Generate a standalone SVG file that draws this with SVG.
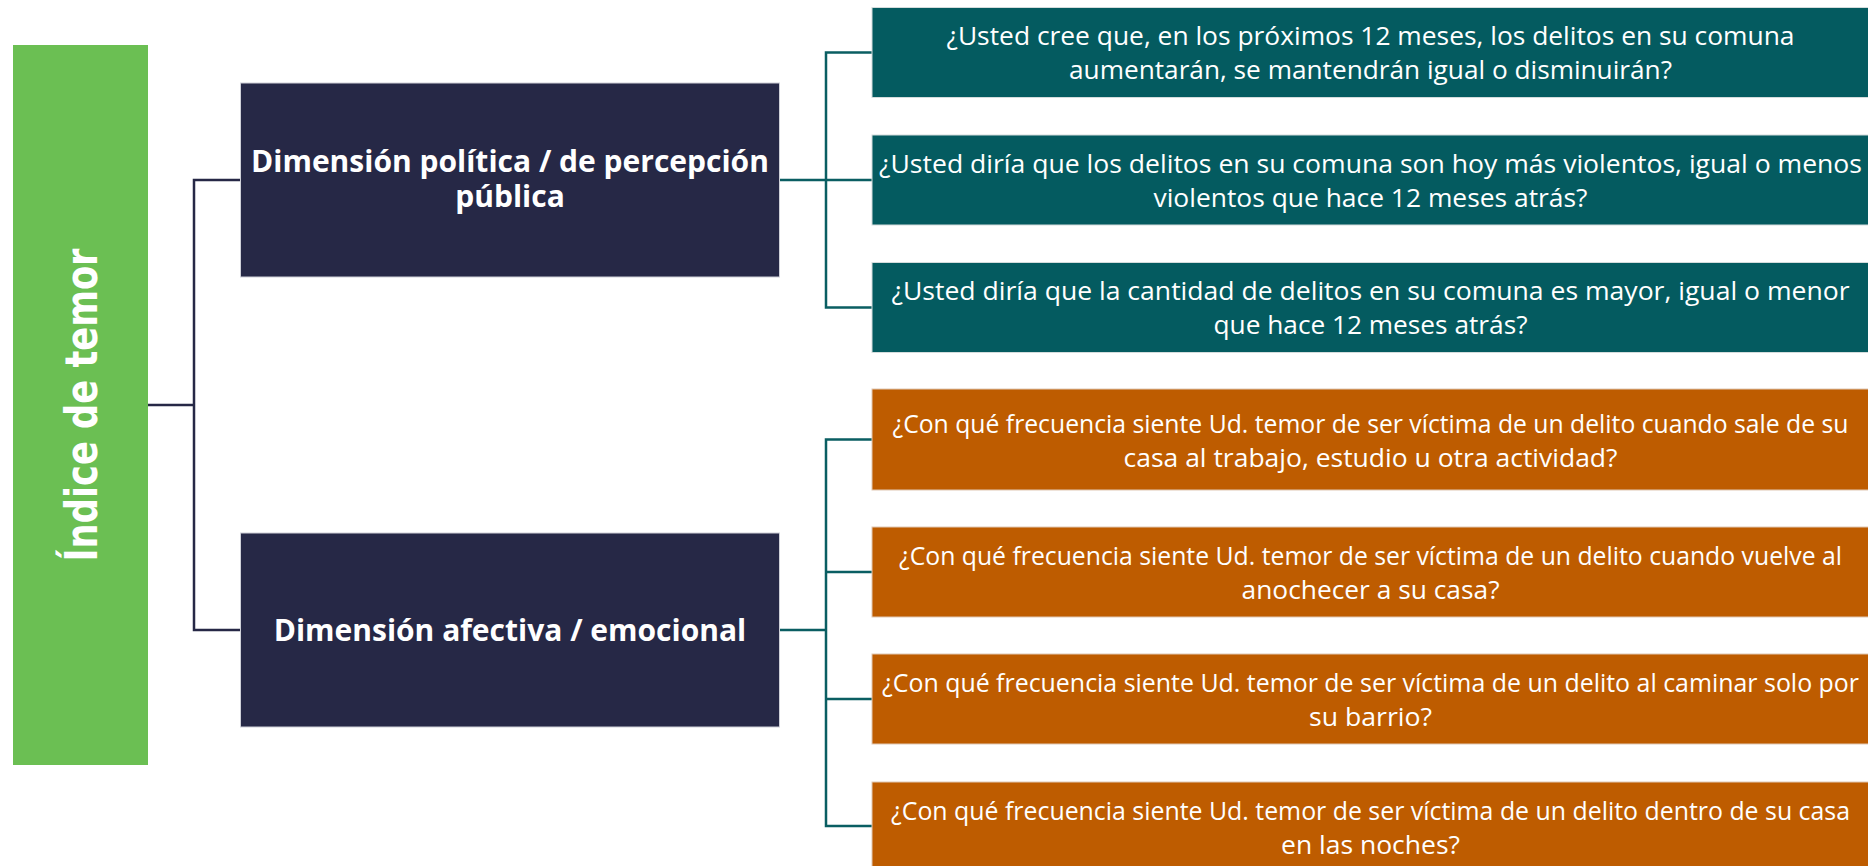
<svg xmlns="http://www.w3.org/2000/svg" width="1868" height="866" viewBox="0 0 1868 866">
<style>
.bg{fill:#ffffff}
.root{fill:#6BBF53}
.dim{fill:#262846;stroke:#cfd0d8;stroke-width:1}
.teal{fill:#045B60;stroke:#d4dcdc;stroke-width:1}
.orange{fill:#BE5C00;stroke:#e0c8b4;stroke-width:1}
.rt{font-family:"DejaVu Sans",Verdana,sans-serif;font-weight:bold;font-size:44px;fill:#ffffff}
.dt{font-family:"Open Sans","Noto Sans",sans-serif;font-weight:bold;font-size:30px;fill:#ffffff;text-anchor:middle}
.qt{font-family:"Open Sans","Noto Sans",sans-serif;font-size:26px;fill:#ffffff;text-anchor:middle}
.qs{font-size:25px}
.cn{fill:none;stroke:#262846;stroke-width:2.5}
.ct{fill:none;stroke:#0A5E62;stroke-width:2.5}
</style>
<rect class="bg" x="0" y="0" width="1868" height="866"/>
<g id="connectors">
<path class="cn" d="M148,405 H194"/>
<path class="cn" d="M240,180 H194 V630 H240"/>
<path class="ct" d="M780,180 H872"/>
<path class="ct" d="M872,52.5 H826 V307.5 H872"/>
<path class="ct" d="M780,630 H826"/>
<path class="ct" d="M872,439.5 H826 V826 H872"/>
<path class="ct" d="M826,572 H872"/>
<path class="ct" d="M826,699 H872"/>
</g>
<g id="root">
<rect class="root" x="13" y="45" width="135" height="720"/>
<text class="rt" transform="translate(96.5,405) rotate(-90)" x="-156.5" y="0" textLength="313" lengthAdjust="spacingAndGlyphs">Índice de temor</text>
</g>
<g id="dim-politica">
<rect class="dim" x="240.5" y="83" width="539" height="194"/>
<text class="dt" x="510" y="172">Dimensión política / de percepción</text>
<text class="dt" x="510" y="207">pública</text>
</g>
<g id="dim-afectiva">
<rect class="dim" x="240.5" y="533" width="539" height="194"/>
<text class="dt" x="510" y="641">Dimensión afectiva / emocional</text>
</g>
<g id="q1">
<rect class="teal" x="872" y="7.5" width="997" height="90"/>
<text class="qt" x="1370.5" y="45" textLength="848" lengthAdjust="spacingAndGlyphs">¿Usted cree que, en los próximos 12 meses, los delitos en su comuna</text>
<text class="qt" x="1370.5" y="79" textLength="603" lengthAdjust="spacingAndGlyphs">aumentarán, se mantendrán igual o disminuirán?</text>
</g>
<g id="q2">
<rect class="teal" x="872" y="135" width="997" height="90"/>
<text class="qt" x="1370.5" y="172.5" textLength="983" lengthAdjust="spacingAndGlyphs">¿Usted diría que los delitos en su comuna son hoy más violentos, igual o menos</text>
<text class="qt" x="1370.5" y="206.5" textLength="434" lengthAdjust="spacingAndGlyphs">violentos que hace 12 meses atrás?</text>
</g>
<g id="q3">
<rect class="teal" x="872" y="262.5" width="997" height="90"/>
<text class="qt" x="1370.5" y="300" textLength="958" lengthAdjust="spacingAndGlyphs">¿Usted diría que la cantidad de delitos en su comuna es mayor, igual o menor</text>
<text class="qt" x="1370.5" y="334" textLength="314" lengthAdjust="spacingAndGlyphs">que hace 12 meses atrás?</text>
</g>
<g id="q4">
<rect class="orange" x="872" y="389" width="997" height="101"/>
<text class="qt qs" x="1370.5" y="433" textLength="956" lengthAdjust="spacingAndGlyphs">¿Con qué frecuencia siente Ud. temor de ser víctima de un delito cuando sale de su</text>
<text class="qt" x="1370.5" y="467" textLength="494" lengthAdjust="spacingAndGlyphs">casa al trabajo, estudio u otra actividad?</text>
</g>
<g id="q5">
<rect class="orange" x="872" y="527" width="997" height="90"/>
<text class="qt qs" x="1370.5" y="565" textLength="943" lengthAdjust="spacingAndGlyphs">¿Con qué frecuencia siente Ud. temor de ser víctima de un delito cuando vuelve al</text>
<text class="qt" x="1370.5" y="599" textLength="258" lengthAdjust="spacingAndGlyphs">anochecer a su casa?</text>
</g>
<g id="q6">
<rect class="orange" x="872" y="654" width="997" height="90"/>
<text class="qt qs" x="1370.5" y="692" textLength="977" lengthAdjust="spacingAndGlyphs">¿Con qué frecuencia siente Ud. temor de ser víctima de un delito al caminar solo por</text>
<text class="qt" x="1370.5" y="726" textLength="123" lengthAdjust="spacingAndGlyphs">su barrio?</text>
</g>
<g id="q7">
<rect class="orange" x="872" y="782" width="997" height="90"/>
<text class="qt qs" x="1370.5" y="819.5" textLength="959" lengthAdjust="spacingAndGlyphs">¿Con qué frecuencia siente Ud. temor de ser víctima de un delito dentro de su casa</text>
<text class="qt" x="1370.5" y="853.5" textLength="179" lengthAdjust="spacingAndGlyphs">en las noches?</text>
</g>
</svg>
